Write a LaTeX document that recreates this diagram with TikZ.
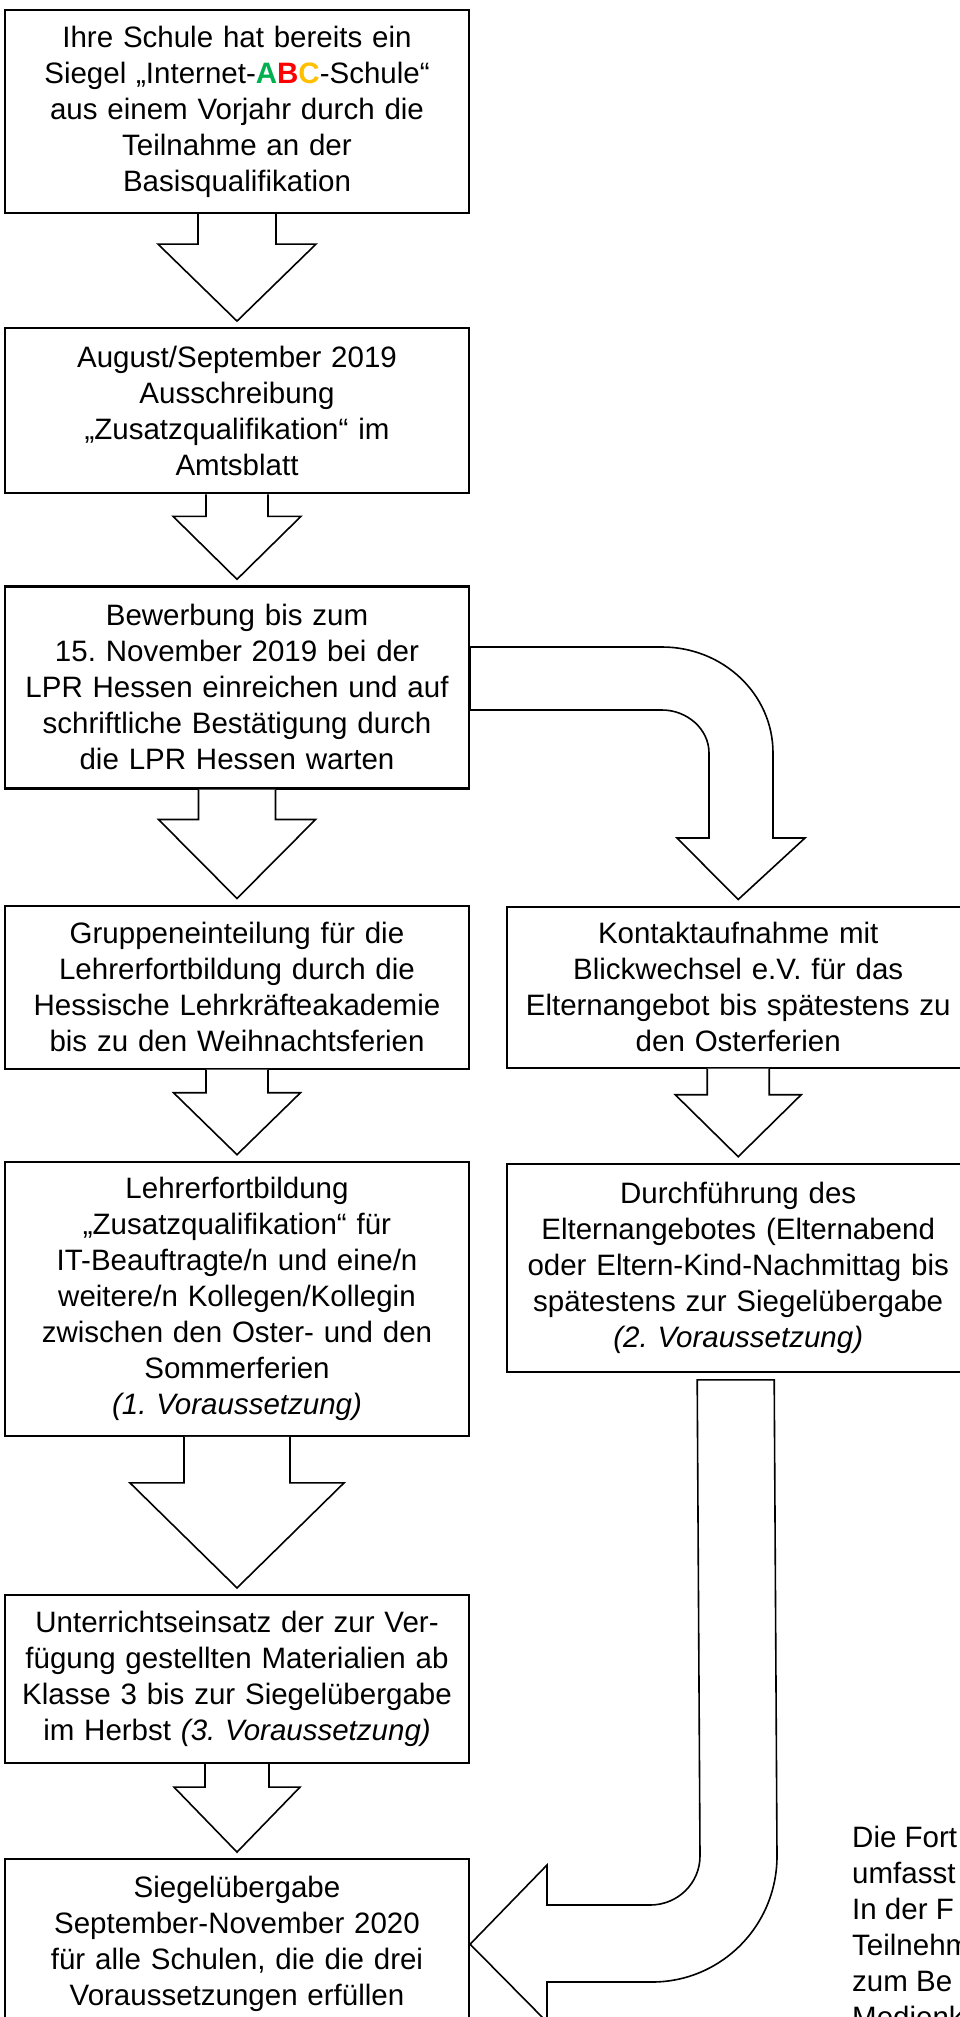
\documentclass[tikz,border=0pt]{standalone}
\usepackage{fontspec}
\setmainfont{Liberation Sans}
\usepackage{tikz}
\usetikzlibrary{positioning,calc}
\definecolor{abcgreen}{RGB}{0,176,80}
\definecolor{abcred}{RGB}{255,0,0}
\definecolor{abcyellow}{RGB}{255,192,0}
\frenchspacing
\tikzset{
  flowpic/.style={
    x=1pt,y=-1pt
    ,node distance=100pt
    ,font=\fontsize{29.5}{36}\selectfont
  }
  ,stepbox/.style={rectangle
    ,draw=black
    ,line width=2.2pt
    ,minimum width=464pt
    ,text width=456pt
    ,align=center
    ,inner sep=0pt
  }
  ,sidebox/.style={stepbox,minimum width=462pt}
  ,blockarr/.style={draw=black,fill=white,line width=1.6pt,line join=miter}
  ,note/.style={align=left,inner sep=0pt,anchor=north west}
}
% block arrow: from, to, shaft half width, head half width, head length
\newcommand{\blockarrow}[5]{%
  \draw[blockarr] let \p1=(#1.south), \p2=(#2.north) in
    (\x1-#3pt,\y1) -- (\x1-#3pt,\y2+#5pt+6pt) -- (\x1-#4pt,\y2+#5pt+6pt)
    -- (\x1,\y2+6pt) -- (\x1+#4pt,\y2+#5pt+6pt) -- (\x1+#3pt,\y2+#5pt+6pt)
    -- (\x1+#3pt,\y1);}

\begin{document}
\begin{tikzpicture}[flowpic]
  \useasboundingbox (0,0) rectangle (960,2017);
  \clip (0,0) rectangle (960,2017);

  % left column
  \node[stepbox,minimum height=203pt] (start) at (237,111.5)
    {Ihre Schule hat bereits ein\\
     Siegel „Internet-{\bfseries\color{abcgreen}A\color{abcred}B\color{abcyellow}C}-Schule“\\
     aus einem Vorjahr durch die\\Teilnahme an der\\Basisqualifikation};
  \node[stepbox,minimum height=165pt,below=113pt of start] (call)
    {August/September 2019\\Ausschreibung\\„Zusatzqualifikation“ im\\Amtsblatt};
  \node[stepbox,minimum height=202pt,below=91pt of call] (apply)
    {Bewerbung bis zum\\15. November 2019 bei der\\LPR Hessen einreichen und auf\\
     schriftliche Bestätigung durch\\die LPR Hessen warten};
  \node[stepbox,minimum height=163pt,below=115pt of apply] (groups)
    {Gruppeneinteilung für die\\Lehrerfortbildung durch die\\
     Hessische Lehrkräfteakademie\\bis zu den Weihnachtsferien};
  \node[stepbox,minimum height=274pt,below=91pt of groups] (course)
    {Lehrerfortbildung\\„Zusatzqualifikation“ für\\IT-Beauftragte/n und eine/n\\
     weitere/n Kollegen/Kollegin\\zwischen den Oster- und den\\Sommerferien\\
     \textit{(1. Voraussetzung)}};
  \node[stepbox,minimum height=168pt,below=157pt of course] (lessons)
    {Unterrichtseinsatz der zur Ver-\\fügung gestellten Materialien ab\\
     Klasse 3 bis zur Siegelübergabe\\im Herbst \textit{(3. Voraussetzung)}};
  \node[stepbox,minimum height=170pt,below=94pt of lessons] (seal)
    {Siegelübergabe\\September-November 2020\\für alle Schulen, die die drei\\
     Voraussetzungen erfüllen};

  % right column
  \node[sidebox,minimum height=161pt,right=36pt of groups] (contact)
    {Kontaktaufnahme mit\\Blickwechsel e.V. für das\\Elternangebot bis spätestens zu\\
     den Osterferien};
  \node[sidebox,minimum height=208pt,below=94pt of contact] (parents)
    {Durchführung des\\Elternangebotes (Elternabend\\oder Eltern-Kind-Nachmittag bis\\
     spätestens zur Siegelübergabe\\\textit{(2. Voraussetzung)}};

  \node[note] (remark) at (852,1826)
    {Die Fort\\umfasst\\In der F\\Teilnehm\\zum Be\\Medienk};

  % straight arrows
  \blockarrow{start}{call}{39}{79}{77}
  \blockarrow{call}{apply}{31}{64}{63}
  \blockarrow{apply}{groups}{38.5}{78.5}{79}
  \blockarrow{groups}{course}{31}{63.5}{62}
  \blockarrow{course}{lessons}{53}{107}{105}
  \blockarrow{lessons}{seal}{32}{63}{65}
  \blockarrow{contact}{parents}{31}{63}{62}

  % bent arrow to the right column
  \draw[blockarr] (apply.east |- 0,647) -- (662,647)
    .. controls (723,647) and (773,694) .. (773,753) -- (773,838) -- (805,838)
    -- ([yshift=6pt]contact.north) -- (677,838) -- (709,838) -- (709,753)
    .. controls (709,729) and (687,710) .. (662,710) -- (apply.east |- 0,710) -- cycle;

  % J arrow back to the seal
  \draw[blockarr] ($(parents.south)+(-41,7)$) -- ($(parents.south)+(36,7)$) -- (777,1856)
    .. controls (777,1926) and (721,1982) .. (652,1982) -- (547,1982) -- (547,2022)
    -- (seal.east) -- (547,1865) -- (547,1905) -- (650,1905)
    .. controls (678,1905) and (700,1883) .. (700,1856) -- cycle;
\end{tikzpicture}
\end{document}
